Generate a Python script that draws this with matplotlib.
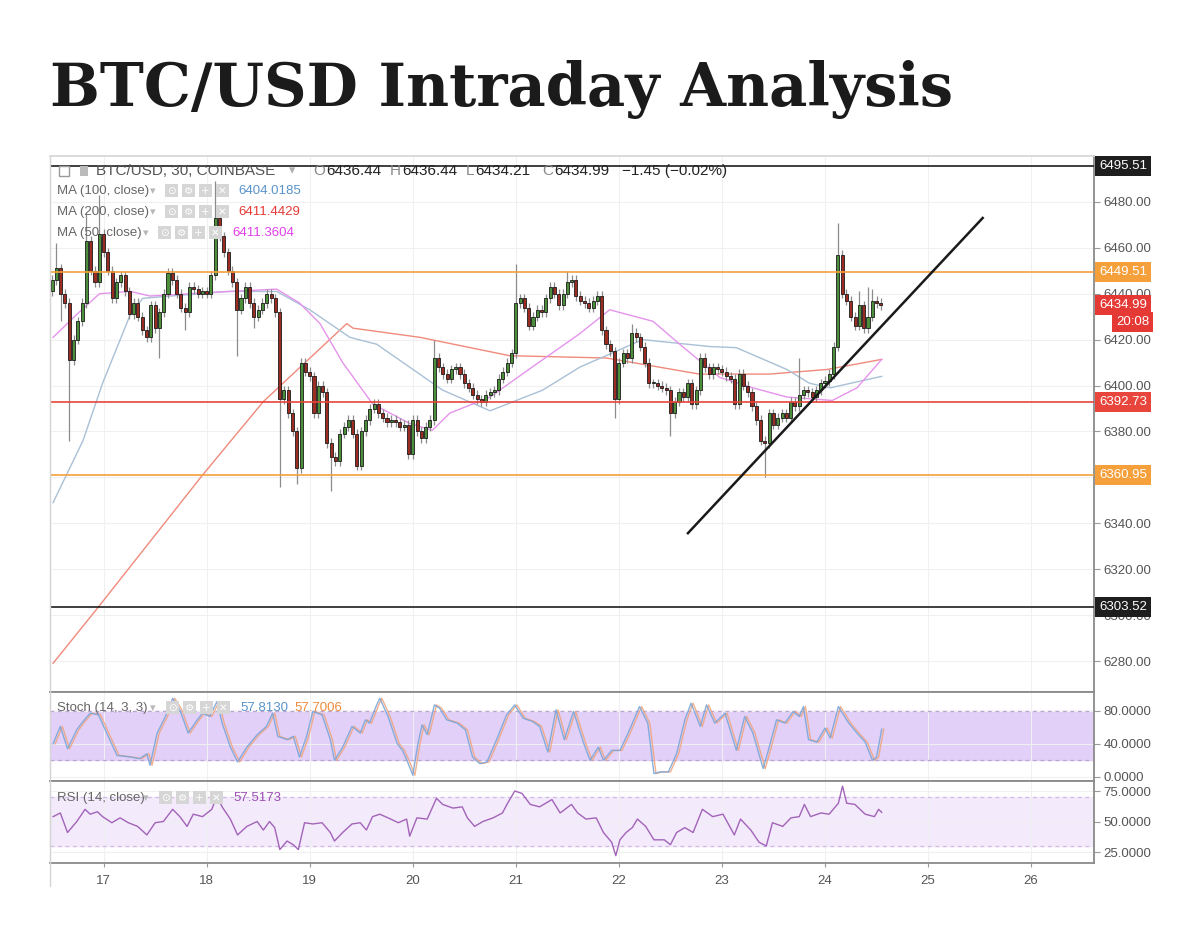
import numpy as np
import matplotlib.pyplot as plt
from matplotlib.patches import Rectangle
from matplotlib.lines import Line2D

plt.rcParams['font.family'] = ['Liberation Sans', 'DejaVu Sans']

# ---------------- data ----------------
start_day = 16.5          # first 1h candle
first_open = 6441
closes = [
    6446, 6451, 6440, 6436, 6411, 6420, 6428, 6436, 6463, 6450, 6445, 6466,
    6458, 6450, 6438, 6445, 6448, 6441, 6431, 6436, 6430, 6424, 6421, 6435,
    6425, 6432, 6440, 6449, 6446, 6440, 6434, 6432, 6443, 6442, 6440, 6441,
    6440, 6448, 6473, 6465, 6458, 6450, 6445, 6433, 6438, 6443, 6436, 6430,
    6433, 6436, 6440, 6438, 6432, 6394, 6398, 6388, 6380, 6364, 6410, 6406,
    6404, 6388, 6400, 6397, 6375, 6369, 6367, 6379, 6382, 6385, 6379, 6365,
    6380, 6385, 6390, 6392, 6388, 6386, 6384, 6385, 6384, 6382, 6383, 6370,
    6385, 6380, 6377, 6382, 6385, 6412, 6408, 6405, 6403, 6407, 6408, 6405,
    6401, 6399, 6396, 6394, 6393, 6396, 6397, 6398, 6403, 6406, 6410, 6414,
    6436, 6438, 6434, 6426, 6430, 6433, 6432, 6438, 6443, 6440, 6435, 6440,
    6445, 6446, 6439, 6437, 6436, 6434, 6437, 6439, 6424, 6418, 6415, 6394,
    6410, 6414, 6412, 6423, 6421, 6417, 6410, 6401, 6401, 6400, 6399, 6398,
    6388, 6393, 6397, 6395, 6401, 6392, 6398, 6412, 6408, 6405, 6408, 6407,
    6406, 6404, 6403, 6392, 6405, 6400, 6397, 6391, 6385, 6376, 6375, 6388,
    6383, 6386, 6388, 6386, 6393, 6391, 6396, 6398, 6397, 6395, 6398, 6401,
    6402, 6405, 6417, 6457, 6440, 6437, 6430, 6426, 6435, 6425, 6430, 6437, 6436, 6435,
]
# long wicks (candle index -> price)
hi_wicks = {1: 6462, 8: 6475, 11: 6483, 38: 6489, 89: 6420, 108: 6453, 120: 6450,
            135: 6427, 174: 6412, 183: 6471, 188: 6441, 190: 6443, 191: 6442}
lo_wicks = {2: 6428, 4: 6376, 25: 6412, 31: 6424, 43: 6413, 47: 6425, 53: 6356,
            57: 6357, 65: 6354, 131: 6386, 144: 6378, 166: 6360}

ma50_days = [16.51, 16.74, 16.96, 17.26, 17.45, 17.84, 18.23, 18.68, 18.90, 19.10, 19.32, 19.61,
             19.97, 20.19, 20.36, 20.75, 21.11, 21.62, 21.91, 22.33, 22.59, 22.98, 23.30, 23.63,
             24.07, 24.31, 24.55]
ma50 = [6421, 6431, 6440, 6441, 6439, 6440, 6441, 6442, 6436, 6427, 6410, 6392,
        6383.5, 6380.5, 6388, 6395, 6406.5, 6422.6, 6433, 6428, 6418, 6403.5, 6399, 6395,
        6393.5, 6399, 6411.4]
ma100_days = [16.51, 16.80, 16.99, 17.26, 17.38, 18.20, 18.68, 19.00, 19.39, 19.65, 20.29,
              20.75, 21.26, 21.62, 22.23, 22.88, 23.14, 23.63, 23.85, 24.05, 24.55]
ma100 = [6349, 6376, 6401, 6431, 6438, 6441, 6441, 6433, 6421, 6418, 6398,
         6389, 6398, 6408, 6420, 6417, 6416.5, 6407, 6401, 6399, 6404]
ma200_days = [16.51, 16.94, 17.96, 18.55, 19.36, 19.42, 20.07, 20.94, 21.88, 22.78, 23.46,
              24.02, 24.55]
ma200 = [6279, 6303, 6361, 6393, 6427, 6425, 6421, 6413, 6412, 6405, 6405, 6407, 6411.4]

levels = [6495.51, 6449.51, 6392.73, 6360.95, 6303.52]
level_colors = ['#1e1e1e', '#f6a03c', '#e8453c', '#f6a03c', '#1e1e1e']
last_price = 6434.99

trend_days = [22.67, 25.53]
trend_vals = [6335.7, 6473.0]

stoch_days = [16.51, 16.58, 16.65, 16.74, 16.80, 16.87, 16.95, 17.03, 17.13, 17.26, 17.35, 17.42,
              17.45, 17.52, 17.60, 17.67, 17.74, 17.82, 17.91, 17.96, 18.03, 18.10, 18.15, 18.23,
              18.30, 18.39, 18.49, 18.58, 18.64, 18.69, 18.78, 18.84, 18.90, 18.97, 19.03, 19.12,
              19.20, 19.24, 19.32, 19.41, 19.49, 19.54, 19.58, 19.65, 19.68, 19.76, 19.85, 19.90,
              19.95, 20.00, 20.05, 20.09, 20.14, 20.21, 20.26, 20.33, 20.43, 20.51, 20.58, 20.65,
              20.72, 20.82, 20.91, 20.99, 21.07, 21.16, 21.23, 21.31, 21.39, 21.47, 21.56, 21.66,
              21.72, 21.80, 21.85, 21.93, 22.01, 22.09, 22.20, 22.28, 22.34, 22.40, 22.48, 22.56,
              22.64, 22.70, 22.79, 22.85, 22.93, 23.03, 23.14, 23.22, 23.30, 23.40, 23.45, 23.53,
              23.61, 23.69, 23.75, 23.79, 23.84, 23.92, 24.00, 24.05, 24.13, 24.23, 24.31, 24.39,
              24.46, 24.50, 24.55]
stoch_k = [40, 61, 34, 57, 67, 77, 75, 53, 26, 24, 22, 28,
           14, 53, 73, 95, 81, 53, 69, 77, 73, 91, 65, 36,
           18, 36, 51, 61, 77, 49, 45, 49, 24, 49, 79, 75,
           45, 20, 36, 61, 53, 69, 65, 87, 95, 73, 40, 32,
           18, 2, 40, 63, 51, 87, 83, 69, 65, 57, 24, 16,
           18, 47, 75, 87, 71, 67, 61, 30, 81, 45, 79, 40,
           20, 36, 20, 32, 32, 53, 85, 65, 4, 6, 6, 28,
           69, 89, 61, 87, 65, 77, 32, 73, 53, 10, 32, 69,
           65, 79, 73, 85, 45, 42, 59, 47, 85, 65, 53, 42,
           20, 24, 57.8]

rsi_days = [16.51, 16.58, 16.65, 16.74, 16.82, 16.87, 16.94, 16.99, 17.08, 17.16, 17.24, 17.33,
            17.42, 17.50, 17.58, 17.67, 17.74, 17.81, 17.87, 17.96, 18.05, 18.10, 18.15, 18.23,
            18.30, 18.39, 18.49, 18.55, 18.61, 18.66, 18.71, 18.78, 18.84, 18.89, 18.95, 19.03,
            19.12, 19.20, 19.24, 19.32, 19.41, 19.49, 19.55, 19.61, 19.68, 19.76, 19.86, 19.94,
            19.97, 20.04, 20.14, 20.23, 20.29, 20.39, 20.48, 20.53, 20.60, 20.68, 20.78, 20.87,
            20.92, 20.99, 21.06, 21.14, 21.23, 21.35, 21.43, 21.54, 21.60, 21.68, 21.78, 21.85,
            21.93, 21.97, 22.01, 22.07, 22.13, 22.18, 22.26, 22.34, 22.44, 22.50, 22.56, 22.64,
            22.72, 22.81, 22.91, 23.01, 23.12, 23.18, 23.28, 23.36, 23.43, 23.49, 23.59, 23.67,
            23.75, 23.80, 23.86, 23.96, 24.04, 24.13, 24.17, 24.21, 24.29, 24.39, 24.48, 24.52,
            24.55]
rsi = [54, 57, 41, 50, 60, 56, 58, 54, 49, 53, 49, 46,
       39, 49, 50, 60, 54, 46, 56, 54, 60, 71, 62, 52,
       39, 46, 50, 43, 50, 45, 27, 34, 31, 27, 49, 48,
       49, 41, 34, 41, 48, 49, 43, 54, 56, 53, 49, 52,
       38, 53, 52, 69, 64, 61, 62, 53, 46, 50, 53, 57,
       65, 75, 73, 64, 62, 68, 57, 64, 57, 52, 53, 41,
       33, 22, 35, 41, 45, 52, 46, 35, 35, 31, 41, 45,
       41, 60, 54, 56, 39, 52, 43, 33, 30, 49, 46, 53,
       54, 64, 54, 57, 56, 65, 79, 65, 64, 56, 54, 60,
       57.5]

day_ticks = list(range(17, 27))

# ---------------- figure ----------------
W, H = 1200, 932
fig = plt.figure(figsize=(W / 100, H / 100), dpi=100)


def fx(x):
    return x / W


def fy(y):
    return 1 - y / H


L, R = 50, 1094
ax = fig.add_axes([fx(L), fy(692), fx(R - L), (692 - 156) / H])
ax_st = fig.add_axes([fx(L), fy(781), fx(R - L), (781 - 692) / H], sharex=ax)
ax_rsi = fig.add_axes([fx(L), fy(863), fx(R - L), (863 - 781) / H], sharex=ax)

# candles
n = len(closes)
t = start_day + np.arange(n) / 24.0
opens = np.array([first_open] + closes[:-1], dtype=float)
cl = np.array(closes, dtype=float)
top = np.maximum(opens, cl)
bot = np.minimum(opens, cl)
highs = np.array([hi_wicks.get(i, top[i] + 2) for i in range(n)])
lows = np.array([lo_wicks.get(i, bot[i] - 2) for i in range(n)])
up = cl >= opens
ax.vlines(t, lows, highs, color='#8c8c8c', lw=0.9, zorder=3)
ax.bar(t, np.maximum(top - bot, 0.4), bottom=bot, width=0.03,
       color=np.where(up, '#4b8f3a', '#9a2c22'), edgecolor='#1a1a1a', lw=0.6, zorder=4)

# moving averages
ax.plot(ma200_days, ma200, color='#f08a7c', lw=1.0, zorder=2)
ax.plot(ma100_days, ma100, color='#a9c0d6', lw=1.0, zorder=2)
ax.plot(ma50_days, ma50, color='#e594ec', lw=1.0, zorder=2)

# horizontal levels
for lv, c in zip(levels, level_colors):
    ax.axhline(lv, color=c, lw=1.2, zorder=5)
ax.plot(trend_days, trend_vals, color='#1a1a1a', lw=1.8, zorder=6)

ax.set_xlim(16.48, 26.61)
ax.set_ylim(6266.5, 6500)
price_ticks = np.arange(6280, 6500, 20)
ax.set_yticks(price_ticks)
# 6360 sits under the orange price tag
ax.set_yticklabels(['' if v == 6360 else '%.2f' % v for v in price_ticks])

# stochastic
ax_st.axhspan(20, 80, color='#e2d0f8', zorder=0)
for v in (20, 80):
    ax_st.axhline(v, color='#b9a6cf', lw=0.9, ls=(0, (3, 3)), zorder=1)
ax_st.plot(np.array(stoch_days) + 0.02, stoch_k, color='#f0a37a', lw=1.0, alpha=0.85, zorder=2)
ax_st.plot(stoch_days, stoch_k, color='#7aa6d8', lw=1.0, alpha=0.9, zorder=3)
ax_st.set_ylim(-5, 102.6)
ax_st.set_yticks([0, 40, 80])
ax_st.yaxis.set_major_formatter(plt.FuncFormatter(lambda v, p: '%.4f' % v))

# RSI
ax_rsi.axhspan(30, 70, color='#f3eafc', zorder=0)
for v in (30, 70):
    ax_rsi.axhline(v, color='#cdb9e2', lw=0.9, ls=(0, (3, 3)), zorder=1)
ax_rsi.plot(rsi_days, rsi, color='#a263b8', lw=1.0, zorder=3)
ax_rsi.set_ylim(16, 83.2)
ax_rsi.set_yticks([25, 50, 75])
ax_rsi.yaxis.set_major_formatter(plt.FuncFormatter(lambda v, p: '%.4f' % v))

for a in (ax, ax_st, ax_rsi):
    a.set_xticks(day_ticks)
    a.yaxis.tick_right()
    a.grid(True, color='#f0f0f0', lw=0.8, zorder=0)
    a.set_axisbelow(True)
    a.tick_params(axis='y', right=True, left=False, length=4, color='#9a9a9a',
                  labelcolor='#555555', labelsize=9.5, pad=3)
    a.tick_params(axis='x', bottom=True, length=3, color='#9a9a9a',
                  labelcolor='#555555', labelsize=9.5, pad=6)
    a.spines['left'].set_color('#d2d2d2')
    a.spines['right'].set_color('#8a8a8a')
    a.spines['top'].set_color('#8a8a8a')
    a.spines['bottom'].set_color('#8a8a8a')
    for s in ('top', 'bottom', 'right'):
        a.spines[s].set_linewidth(1.3)
ax.spines['top'].set_color('#d8d8d8')
ax.tick_params(axis='x', labelbottom=False)
ax_st.tick_params(axis='x', labelbottom=False)


# price tags on the right axis
def tag(a, y, text, color, dx=0, dy=0):
    a.annotate(text, xy=(1, y), xycoords=('axes fraction', 'data'),
               xytext=(5 + dx, dy), textcoords='offset pixels', ha='left', va='center',
               fontsize=9.5, color='white', annotation_clip=False, zorder=10,
               bbox=dict(boxstyle='square,pad=0.3', fc=color, ec='none'))


for lv, c in zip(levels, level_colors):
    tag(ax, lv, '%.2f' % lv, c)
tag(ax, last_price, '%.2f' % last_price, '#e53935')
tag(ax, last_price, '20:08', '#e53935', dx=17, dy=-17)

# ---------------- header texts ----------------
title = fig.text(fx(50), fy(106), 'BTC/USD Intraday Analysis', fontsize=50,
                 fontweight='bold', family=['DejaVu Serif'], color='#1b1b1b', va='baseline')
fig.canvas.draw()
bw = title.get_window_extent().width
title.set_fontsize(50 * 905 / bw)

fig.add_artist(Line2D([fx(L), fx(L)], [fy(156), fy(886)], color='#d5d5d5', lw=1.0))

# symbol line
fig.add_artist(Rectangle((fx(59), fy(176)), fx(10), 10 / H, fc='none', ec='#9a9a9a', lw=1,
                         transform=fig.transFigure))
fig.add_artist(Rectangle((fx(80), fy(176)), fx(8), 10 / H, fc='#bbbbbb', ec='none',
                         transform=fig.transFigure))
fig.text(fx(96), fy(171), 'BTC/USD, 30, COINBASE', fontsize=11, color='#555555', va='center')
fig.text(fx(289), fy(171), '▾', fontsize=9, color='#b0b0b0', va='center')
ohlc = [('O', '6436.44', 313), ('H', '6436.44', 390), ('L', '6434.21', 466), ('C', '6434.99', 542)]
for k, v, x in ohlc:
    lbl = fig.text(fx(x), fy(171), k, fontsize=11, color='#888888', va='center')
    fig.canvas.draw()
    lw_ = lbl.get_window_extent().width
    fig.text(fx(x + lw_ + 1), fy(171), v, fontsize=11, color='#222222', va='center')
fig.text(fx(622), fy(171), '−1.45 (−0.02%)', fontsize=11, color='#222222', va='center')


def icons(x0, yc):
    for j, g in enumerate(['⊙', '⚙', '+', '✕']):
        x = x0 + j * 17
        fig.add_artist(Rectangle((fx(x), fy(yc + 6)), fx(13), 13 / H, fc='#d6d6d6', ec='none',
                                 transform=fig.transFigure))
        fig.text(fx(x + 6.5), fy(yc), g, fontsize=7.5, color='white', ha='center', va='center',
                 family=['DejaVu Sans'])


legend_rows = [
    ('MA (100, close)', 191, 165, '6404.0185', '#5a93cc', 238),
    ('MA (200, close)', 212, 165, '6411.4429', '#e53935', 238),
    ('MA (50, close)', 233, 158, '6411.3604', '#e040e8', 232),
]
for name, y, ix, val, c, vx in legend_rows:
    fig.text(fx(57), fy(y), name, fontsize=9.5, color='#666666', va='center')
    fig.text(fx(ix - 15), fy(y), '▾', fontsize=8, color='#b8b8b8', va='center')
    icons(ix, y)
    fig.text(fx(vx), fy(y), val, fontsize=9.5, color=c, va='center')

fig.text(fx(57), fy(708), 'Stoch (14, 3, 3)', fontsize=9.5, color='#666666', va='center')
fig.text(fx(150), fy(708), '▾', fontsize=8, color='#b8b8b8', va='center')
icons(166, 708)
fig.text(fx(240), fy(708), '57.8130', fontsize=9.5, color='#5a93cc', va='center')
fig.text(fx(294), fy(708), '57.7006', fontsize=9.5, color='#f08a3c', va='center')

fig.text(fx(57), fy(798), 'RSI (14, close)', fontsize=9.5, color='#666666', va='center')
fig.text(fx(143), fy(798), '▾', fontsize=8, color='#b8b8b8', va='center')
icons(159, 798)
fig.text(fx(233), fy(798), '57.5173', fontsize=9.5, color='#9c4fb5', va='center')

fig.savefig('out.png', dpi=100, facecolor='white')
